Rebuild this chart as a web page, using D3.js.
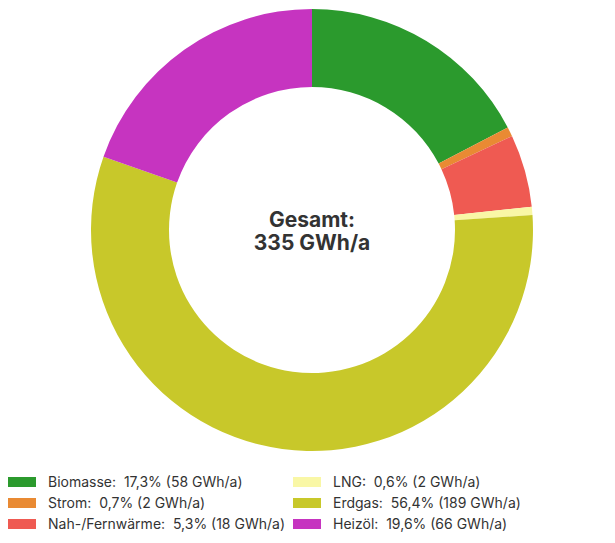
<!DOCTYPE html>
<html>
<head>
<meta charset="utf-8">
<script src="https://cdn.jsdelivr.net/npm/d3@7/dist/d3.min.js"></script>
<style>
  html, body { margin: 0; padding: 0; background: #fff; }
  svg { display: block; }
  text { font-family: Inter, "Open Sans", sans-serif; fill: #333; }
</style>
</head>
<body>
<svg id="chart" width="615" height="543"></svg>
<script>
// Energy sources, share in percent and annual amount
const categories = ["Biomasse", "Strom", "Nah-/Fernwärme", "LNG", "Erdgas", "Heizöl"];
const shares = [17.3, 0.7, 5.3, 0.6, 56.4, 19.6];
const amounts = [58, 2, 18, 2, 189, 66];
const colors = ["#2b9a2d", "#e98a33", "#ef5a52", "#f9f7a6", "#c8c82a", "#c634c0"];
const totalLabel = ["Gesamt:", "335 GWh/a"];

const svg = d3.select("#chart");
const cx = 312, cy = 230, outerR = 221, innerR = 143;

const data = categories.map((c, i) => ({ name: c, share: shares[i], amount: amounts[i], color: colors[i] }));

const pie = d3.pie().value(d => d.share).sort(null);
const arc = d3.arc().innerRadius(innerR).outerRadius(outerR);

const g = svg.append("g").attr("transform", `translate(${cx},${cy})`);
g.selectAll("path")
  .data(pie(data))
  .join("path")
  .attr("d", arc)
  .attr("fill", d => d.data.color);

// Total in the middle of the ring
g.selectAll("text.total")
  .data(totalLabel)
  .join("text")
  .attr("class", "total")
  .attr("text-anchor", "middle")
  .attr("y", (d, i) => -3 + i * 23)
  .attr("font-size", 21)
  .attr("font-weight", 700)
  .text(d => d);

// Legend: two columns, three rows
const fmt = v => v.toFixed(1).replace(".", ",");
const colX = [8, 293];
const rowY = [482, 503, 524];
const legend = svg.append("g");
const items = legend.selectAll("g")
  .data(data)
  .join("g")
  .attr("transform", (d, i) => `translate(${colX[Math.floor(i / 3)]},${rowY[i % 3]})`);
items.append("rect")
  .attr("x", 0).attr("y", -5)
  .attr("width", 28).attr("height", 10)
  .attr("fill", d => d.color);
items.append("text")
  .attr("x", 40)
  .attr("dy", "0.35em")
  .attr("font-size", 14)
  .attr("xml:space", "preserve")
  .text(d => `${d.name}:  ${fmt(d.share)}% (${d.amount} GWh/a)`);
</script>
</body>
</html>
